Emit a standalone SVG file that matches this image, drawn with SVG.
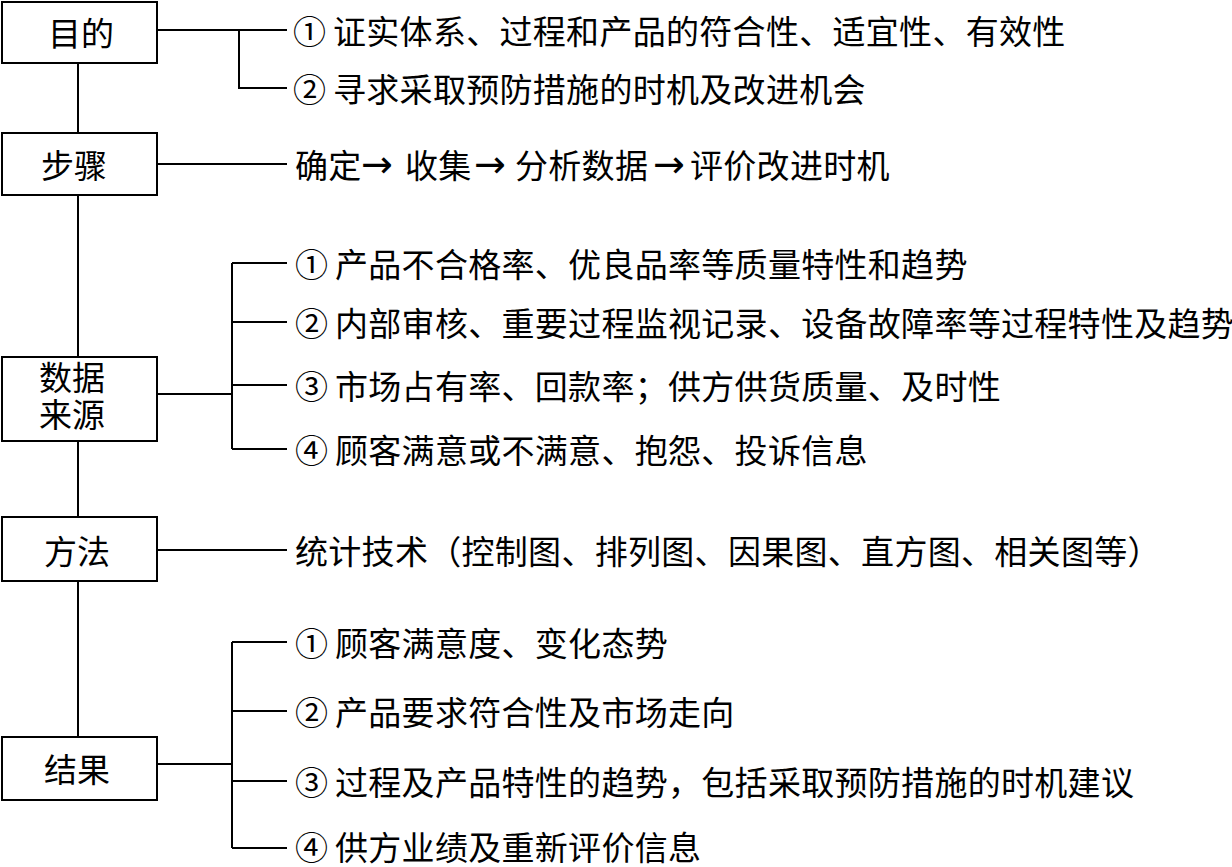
<svg xmlns="http://www.w3.org/2000/svg" width="1232" height="867" viewBox="0 0 1232 867">
<style>
.box{fill:#fff;stroke:#000;stroke-width:2}
.ln{fill:none;stroke:#000;stroke-width:2}
text{font-family:"Noto Sans CJK SC","Liberation Serif",sans-serif;font-size:33px;fill:#000;dominant-baseline:central}
.lbl{letter-spacing:0.3px}
.arr{font-family:"DejaVu Sans",sans-serif;font-size:38px}
</style>
<rect width="1232" height="867" fill="#fff"/>
<g id="connectors">
<path class="ln" d="M78,63V133M78,195V357M78,441V517M78,581V737"/>
<path class="ln" d="M157,30H287M239,30V88H287"/>
<path class="ln" d="M157,164H287"/>
<path class="ln" d="M157,394H232M232,263V449M232,263H287M232,322H287M232,385H287M232,449H287"/>
<path class="ln" d="M157,550H287"/>
<path class="ln" d="M157,764H232M232,642V848M232,642H287M232,711H287M232,781H287M232,848H287"/>
</g>
<g id="node-mudi">
<rect class="box" x="2" y="2" width="155" height="61"/>
<text x="81" y="32" text-anchor="middle">目的</text>
</g>
<g id="node-buzhou">
<rect class="box" x="2" y="133" width="155" height="62"/>
<text x="74" y="164" text-anchor="middle">步骤</text>
</g>
<g id="node-shuju">
<rect class="box" x="2" y="357" width="155" height="84"/>
<text text-anchor="middle"><tspan x="72" y="376">数据</tspan><tspan x="72" y="413">来源</tspan></text>
</g>
<g id="node-fangfa">
<rect class="box" x="2" y="517" width="155" height="64"/>
<text x="77" y="550" text-anchor="middle">方法</text>
</g>
<g id="node-jieguo">
<rect class="box" x="2" y="737" width="155" height="63"/>
<text x="77" y="768" text-anchor="middle">结果</text>
</g>
<g id="labels-mudi">
<text class="lbl" y="30"><tspan x="293">①</tspan><tspan x="333">证实体系、过程和产品的符合性、适宜性、有效性</tspan></text>
<text class="lbl" y="88"><tspan x="293">②</tspan><tspan x="333">寻求采取预防措施的时机及改进机会</tspan></text>
</g>
<g id="labels-buzhou">
<text class="lbl" y="164"><tspan x="295">确定</tspan><tspan class="arr" x="361">→</tspan><tspan x="405">收集</tspan><tspan class="arr" x="474">→</tspan><tspan x="515">分析数据</tspan><tspan class="arr" x="653">→</tspan><tspan x="690">评价改进时机</tspan></text>
</g>
<g id="labels-shuju">
<text class="lbl" y="263"><tspan x="295">①</tspan><tspan x="335">产品不合格率、优良品率等质量特性和趋势</tspan></text>
<text class="lbl" y="322"><tspan x="295">②</tspan><tspan x="335">内部审核、重要过程监视记录、设备故障率等过程特性及趋势</tspan></text>
<text class="lbl" y="385"><tspan x="295">③</tspan><tspan x="335">市场占有率、回款率；供方供货质量、及时性</tspan></text>
<text class="lbl" y="449"><tspan x="295">④</tspan><tspan x="335">顾客满意或不满意、抱怨、投诉信息</tspan></text>
</g>
<g id="labels-fangfa">
<text class="lbl" y="550"><tspan x="295">统计技术（控制图、排列图、因果图、直方图、相关图等）</tspan></text>
</g>
<g id="labels-jieguo">
<text class="lbl" y="642"><tspan x="295">①</tspan><tspan x="335">顾客满意度、变化态势</tspan></text>
<text class="lbl" y="711"><tspan x="295">②</tspan><tspan x="335">产品要求符合性及市场走向</tspan></text>
<text class="lbl" y="781"><tspan x="295">③</tspan><tspan x="335">过程及产品特性的趋势，包括采取预防措施的时机建议</tspan></text>
<text class="lbl" y="846"><tspan x="295">④</tspan><tspan x="335">供方业绩及重新评价信息</tspan></text>
</g>
</svg>
